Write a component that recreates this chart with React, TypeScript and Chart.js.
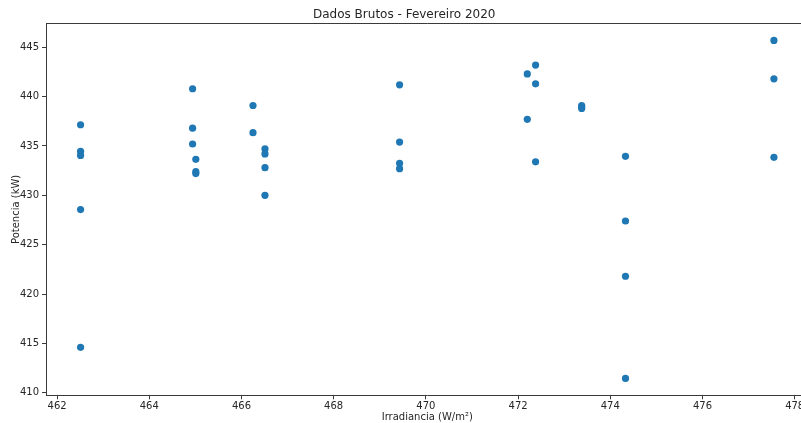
import React, { useEffect, useRef } from "react";
import { Chart, registerables } from "chart.js";

Chart.register(...registerables);

const chartTitle = "Dados Brutos - Fevereiro 2020";
const xLabel = "Irradiancia (W/m²)";
const yLabel = "Potencia (kW)";

const irradiancia = [
  462.51, 462.51, 462.51, 462.51, 462.51,
  464.94, 464.94, 464.94,
  465.01, 465.01, 465.01,
  466.25, 466.25,
  466.51, 466.51, 466.51, 466.51,
  469.43, 469.43, 469.43, 469.43,
  472.2, 472.2,
  472.38, 472.38, 472.38,
  473.38, 473.38, 473.38,
  474.33, 474.33, 474.33, 474.33,
  477.55, 477.55, 477.55,
];
const potencia = [
  437.15, 434.45, 434.04, 428.56, 414.6,
  440.8, 436.8, 435.2,
  433.65, 432.4, 432.2,
  439.1, 436.35,
  434.7, 434.2, 432.8, 430.0,
  441.2, 435.4, 433.25, 432.7,
  442.3, 437.7,
  443.2, 441.3, 433.4,
  439.1, 438.95, 438.8,
  433.95, 427.4, 421.8, 411.45,
  445.7, 441.8, 433.85,
];

const xTicks = [462, 464, 466, 468, 470, 472, 474, 476, 478];
const yTicks = [410, 415, 420, 425, 430, 435, 440, 445];

const X_MIN = 461.76;
const X_MAX = 478.3;
const Y_MIN = 409.74;
const Y_MAX = 447.41;

const FONT = "'DejaVu Sans', sans-serif";
const TEXT = "#262626";
const AXIS = "#3a3a3a";

const frame = {
  id: "frame",
  afterDraw(chart: any) {
    const { ctx, chartArea } = chart;
    const y = Math.floor(chartArea.top) + 0.5;
    ctx.save();
    ctx.strokeStyle = AXIS;
    ctx.lineWidth = 1;
    ctx.beginPath();
    ctx.moveTo(chartArea.left, y);
    ctx.lineTo(chartArea.right, y);
    ctx.stroke();
    ctx.restore();
  },
};

export default function App() {
  const ref = useRef<HTMLCanvasElement | null>(null);

  useEffect(() => {
    if (!ref.current) return;
    const chart = new Chart(ref.current, {
      type: "scatter",
      data: {
        datasets: [
          {
            data: irradiancia.map((x, i) => ({ x, y: potencia[i] })),
            backgroundColor: "#1f77b4",
            borderColor: "#1f77b4",
            borderWidth: 0,
            pointRadius: 3.6,
          },
        ],
      },
      plugins: [frame],
      options: {
        responsive: false,
        animation: false,
        layout: { padding: { left: 0, right: 21.5, top: 0, bottom: 0 } },
        plugins: {
          legend: { display: false },
          tooltip: { enabled: false },
          title: {
            display: true,
            text: chartTitle,
            color: TEXT,
            font: { family: FONT, size: 12, weight: "normal" },
            padding: { top: 7.5, bottom: 1.6 },
          },
        },
        scales: {
          x: {
            type: "linear",
            min: X_MIN,
            max: X_MAX,
            afterBuildTicks: (s: any) => {
              s.ticks = xTicks.map((v) => ({ value: v }));
            },
            afterFit: (s: any) => {
              s.height = 27.7;
            },
            ticks: {
              color: TEXT,
              font: { family: FONT, size: 10 },
              padding: 1,
              maxRotation: 0,
              autoSkip: false,
              callback: (v: any) => String(v),
            },
            grid: {
              display: true,
              drawOnChartArea: false,
              drawTicks: true,
              tickLength: 4,
              color: AXIS,
            },
            border: { display: true, color: AXIS, width: 1 },
            title: {
              display: true,
              text: xLabel,
              color: TEXT,
              font: { family: FONT, size: 10 },
              padding: { top: 0, bottom: -0.5 },
            },
          },
          y: {
            type: "linear",
            min: Y_MIN,
            max: Y_MAX,
            afterBuildTicks: (s: any) => {
              s.ticks = yTicks.map((v) => ({ value: v }));
            },
            afterFit: (s: any) => {
              s.width = 46;
            },
            ticks: {
              color: TEXT,
              font: { family: FONT, size: 10 },
              padding: 3,
              autoSkip: false,
              callback: (v: any) => String(v),
            },
            grid: {
              display: true,
              drawOnChartArea: false,
              drawTicks: true,
              tickLength: 4,
              color: AXIS,
            },
            border: { display: true, color: AXIS, width: 1 },
            title: {
              display: true,
              text: yLabel,
              color: TEXT,
              font: { family: FONT, size: 10 },
              padding: { top: 10, bottom: 0 },
            },
          },
        },
      },
    });
    return () => chart.destroy();
  }, []);

  return (
    <div
      style={{
        position: "fixed",
        left: 0,
        top: 0,
        width: 801,
        height: 423,
        overflow: "hidden",
        background: "#fff",
      }}
    >
      <canvas ref={ref} width={830} height={423} style={{ display: "block" }} />
    </div>
  );
}
